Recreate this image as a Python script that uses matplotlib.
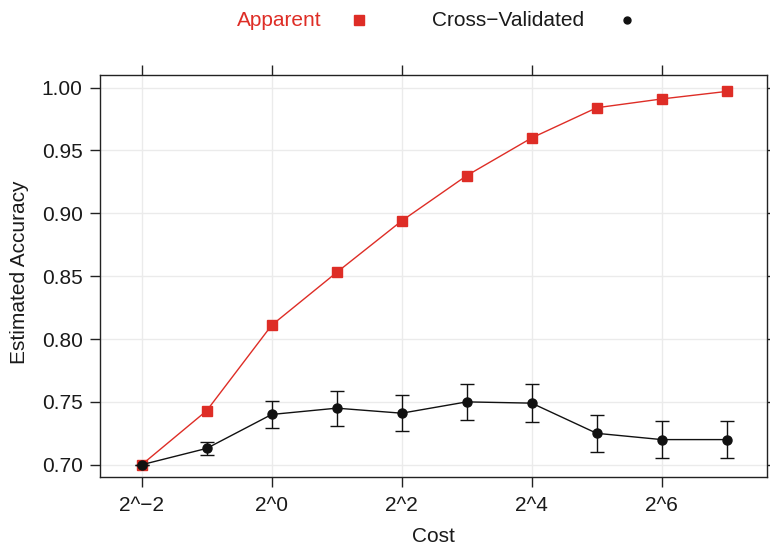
import matplotlib
matplotlib.use('Agg')
import matplotlib.pyplot as plt
from matplotlib.lines import Line2D

plt.rcParams['font.family'] = ['Liberation Sans', 'DejaVu Sans']

log2_cost = [-2, -1, 0, 1, 2, 3, 4, 5, 6, 7]
apparent = [0.700, 0.743, 0.811, 0.853, 0.894, 0.930, 0.960, 0.984, 0.991, 0.997]
cv = [0.700, 0.713, 0.740, 0.745, 0.741, 0.750, 0.749, 0.725, 0.720, 0.720]
cv_err = [0.0, 0.005, 0.0105, 0.014, 0.0145, 0.0143, 0.015, 0.0145, 0.015, 0.015]
xtick_pos = [-2, 0, 2, 4, 6]
xtick_labels = ['2^\u22122', '2^0', '2^2', '2^4', '2^6']
yticks = [0.70, 0.75, 0.80, 0.85, 0.90, 0.95, 1.00]
ytick_labels = ['0.70', '0.75', '0.80', '0.85', '0.90', '0.95', '1.00']
series_names = ['Apparent', 'Cross\u2212Validated']

RED = '#de2d26'
BLACK = '#111111'
TXT = '#1a1a1a'
FS = 15

fig = plt.figure(figsize=(7.7, 5.44), dpi=100)
ax = fig.add_axes([100.3/770, 1-477.3/544, (767.3-100.3)/770, (477.3-74.7)/544])

ax.set_xlim(-2.637, 7.625)
ax.set_ylim(0.690, 1.0103)

ax.set_xticks(xtick_pos)
ax.set_xticklabels(xtick_labels)
ax.set_yticks(yticks)
ax.set_yticklabels(ytick_labels)

ax.grid(True, color='#ebebeb', linewidth=1.0, zorder=0)
ax.set_axisbelow(True)

ax.plot(log2_cost, apparent, color=RED, linewidth=1.0, marker='s',
        markersize=6.5, markerfacecolor=RED, markeredgecolor=RED, zorder=3)
ax.errorbar(log2_cost, cv, yerr=cv_err, color=BLACK, linewidth=1.0,
            marker='o', markersize=6.5, capsize=5, capthick=1.0,
            elinewidth=1.0, ecolor=BLACK, zorder=4)

for s in ax.spines.values():
    s.set_color('#222222')
    s.set_linewidth(1.0)

ax.tick_params(axis='both', which='major', direction='out', length=7.2,
               width=1.0, color='#222222', labelsize=FS, labelcolor=TXT,
               top=True, right=True, labeltop=False, labelright=False)
ax.tick_params(axis='y', pad=5.5)
ax.tick_params(axis='x', pad=6.0)

ax.set_xlabel('Cost', fontsize=FS, color=TXT)
ax.set_ylabel('Estimated Accuracy', fontsize=FS, color=TXT)
ax.xaxis.set_label_coords(433.8/770, 1 - 536/544, transform=fig.transFigure)
ax.yaxis.set_label_coords(20/770, 1 - 272/544, transform=fig.transFigure)
ax.xaxis.label.set_va('center')
ax.yaxis.label.set_va('center')

# Legend (top, lattice-style: text then symbol)
ly = 1 - 20/544
fig.text(237.3/770, ly, series_names[0], color=RED, fontsize=FS,
         ha='left', va='center')
fig.add_artist(Line2D([359.3/770], [ly], marker='s', markersize=6.5,
                      color=RED, linestyle='none', transform=fig.transFigure))
fig.text(431.7/770, ly, series_names[1], color=TXT, fontsize=FS,
         ha='left', va='center')
fig.add_artist(Line2D([627.3/770], [ly], marker='o', markersize=5,
                      color=BLACK, linestyle='none', transform=fig.transFigure))

fig.savefig('out.png', dpi=100)
